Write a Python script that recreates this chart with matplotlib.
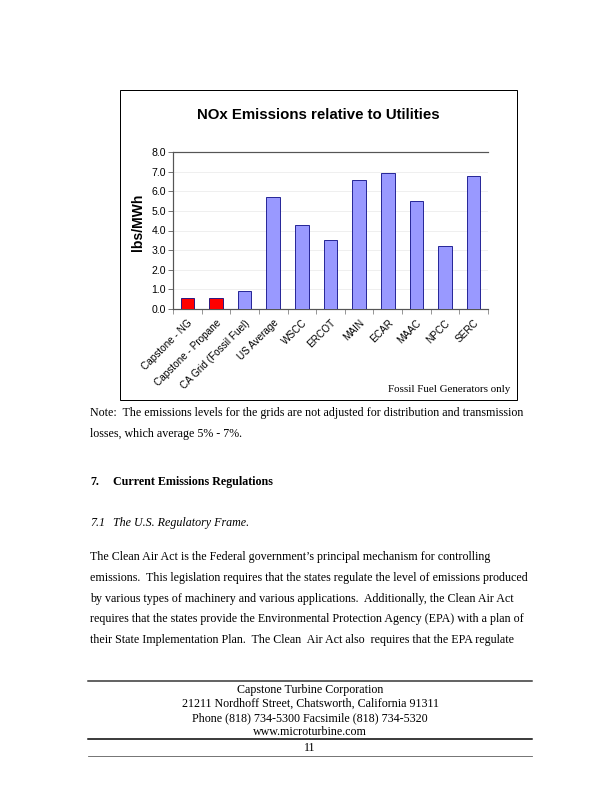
import numpy as np
import matplotlib.pyplot as plt
import matplotlib.transforms as mtransforms
from matplotlib.patches import Rectangle
from matplotlib.lines import Line2D

# chart data (lbs/MWh)
categories = ["Capstone - NG", "Capstone - Propane", "CA Grid (Fossil Fuel)", "US Average",
              "WSCC", "ERCOT", "MAIN", "ECAR", "MAAC", "NPCC", "SERC"]
nox = [0.55, 0.55, 0.9, 5.7, 4.3, 3.5, 6.55, 6.95, 5.5, 3.2, 6.8]
bar_colors = ["#FF0000", "#FF0000"] + ["#9999FF"] * 9
yticks = [0.0, 1.0, 2.0, 3.0, 4.0, 5.0, 6.0, 7.0, 8.0]

W, H = 612, 792
def fx(x):
    return x / W
def fy(y):
    return 1 - y / H

fig = plt.figure(figsize=(8.5, 11), dpi=72)

# chart frame
fig.patches.append(Rectangle((fx(120), fy(400)), fx(517) - fx(120), fy(90) - fy(400),
                             transform=fig.transFigure, fill=False, edgecolor="black", lw=1))

ax = fig.add_axes([fx(173), fy(309), fx(488) - fx(173), fy(152) - fy(309)])
x = np.arange(len(categories))
ax.bar(x, nox, width=0.47, color=bar_colors, edgecolor="#000080", linewidth=0.8, zorder=3)
ax.set_xlim(-0.5, len(categories) - 0.5)
ax.set_ylim(0, 8)
ax.set_yticks(yticks)
ax.set_yticklabels(["%.1f" % v for v in yticks], fontsize=10.5, family="Liberation Sans")
ax.yaxis.grid(True, color="#e6e6e6", lw=0.6, zorder=0)
ax.set_xticks(np.arange(len(categories) + 1) - 0.5, minor=True)
ax.set_xticks(x)
ax.set_xticklabels(categories, rotation=45, ha="right", rotation_mode="anchor",
                   fontsize=10, family="Liberation Sans")
shift = mtransforms.ScaledTranslation(-4 / 72, 0, fig.dpi_scale_trans)
for lab in ax.get_xticklabels():
    lab.set_transform(lab.get_transform() + shift)
ax.tick_params(axis="x", which="major", length=0, pad=9)
ax.tick_params(axis="x", which="minor", length=5, color="#555555")
ax.tick_params(axis="y", length=5, color="#555555", pad=2)
for s in ["left", "bottom", "top"]:
    ax.spines[s].set_color("#555555")
    ax.spines[s].set_linewidth(1.2)
ax.spines["right"].set_visible(False)
ax.set_ylabel("lbs/MWh", fontsize=14, fontweight="bold", family="Liberation Sans")
ax.yaxis.set_label_coords(-0.089, 0.554)

fig.text(fx(318), fy(115), "NOx Emissions relative to Utilities", ha="center", va="center",
         fontsize=15, fontweight="bold", family="Liberation Sans")
fig.text(fx(510), fy(389), "Fossil Fuel Generators only", ha="right", va="center",
         fontsize=11, family="Liberation Serif")

# page text
serif = "Liberation Serif"
fs = 12
fig.text(fx(90), fy(413), "Note:  The emissions levels for the grids are not adjusted for distribution and transmission",
         va="center", fontsize=fs, family=serif)
fig.text(fx(90), fy(434), "losses, which average 5% - 7%.", va="center", fontsize=fs, family=serif)
fig.text(fx(90), fy(482), "7.", va="center", fontsize=fs, family=serif, fontweight="bold")
fig.text(fx(113), fy(482), "Current Emissions Regulations", va="center", fontsize=fs, family=serif, fontweight="bold")
fig.text(fx(90), fy(523), "7.1", va="center", fontsize=fs, family=serif, style="italic")
fig.text(fx(113), fy(523), "The U.S. Regulatory Frame.", va="center", fontsize=fs, family=serif, style="italic")

para = ["The Clean Air Act is the Federal government\u2019s principal mechanism for controlling",
        "emissions.  This legislation requires that the states regulate the level of emissions produced",
        "by various types of machinery and various applications.  Additionally, the Clean Air Act",
        "requires that the states provide the Environmental Protection Agency (EPA) with a plan of",
        "their State Implementation Plan.  The Clean  Air Act also  requires that the EPA regulate"]
for i, line in enumerate(para):
    fig.text(fx(90), fy(557 + i * 20.8), line, va="center", fontsize=fs, family=serif)

# footer
fig.add_artist(Line2D([fx(88), fx(532)], [fy(681), fy(681)], color="#333333", lw=1.5, transform=fig.transFigure))
footer = ["Capstone Turbine Corporation", "21211 Nordhoff Street, Chatsworth, California 91311",
          "Phone (818) 734-5300 Facsimile (818) 734-5320", "www.microturbine.com"]
for i, line in enumerate(footer):
    fig.text(fx(310), fy(690 + i * 14), line, ha="center", va="center", fontsize=12, family=serif)
fig.add_artist(Line2D([fx(88), fx(532)], [fy(739), fy(739)], color="black", lw=1.5, transform=fig.transFigure))
fig.text(fx(310), fy(748), "11", ha="center", va="center", fontsize=12, family=serif)
fig.add_artist(Line2D([fx(88), fx(532)], [fy(756), fy(756)], color="#555555", lw=0.8, transform=fig.transFigure))

fig.savefig("out.png", dpi=72)
